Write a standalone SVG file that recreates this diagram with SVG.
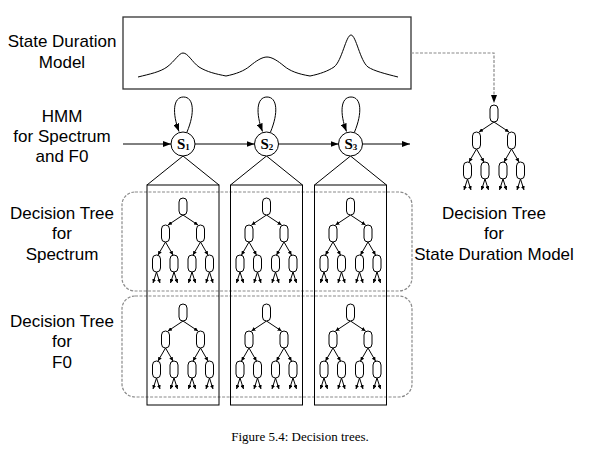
<svg xmlns="http://www.w3.org/2000/svg" xmlns:xlink="http://www.w3.org/1999/xlink" width="600" height="460" viewBox="0 0 600 460">
<style>
.lbl{font-family:"Liberation Sans",Arial,sans-serif;font-size:17px;fill:#000;text-anchor:middle}
.cap{font-family:"Liberation Serif","Times New Roman",serif;font-size:13px;fill:#000;text-anchor:middle}
.st{font-family:"Liberation Serif","Times New Roman",serif;font-weight:bold;fill:#000}
.ln{fill:none;stroke:#000;stroke-width:1}
.box{fill:none;stroke:#333;stroke-width:1.3}
.dash{fill:none;stroke:#8a8a8a;stroke-width:1.2;stroke-dasharray:3,1.5}
.nd{fill:#fff;stroke:#000;stroke-width:1}
.te{fill:none;stroke:#000;stroke-width:1;marker-end:url(#a)}
.he{fill:none;stroke:#000;stroke-width:1;marker-end:url(#A)}
</style>
<defs>
<marker id="a" viewBox="0 0 6 6" refX="6" refY="3" markerWidth="4" markerHeight="4" markerUnits="userSpaceOnUse" orient="auto"><path d="M0,0 L6,3 L0,6 z" fill="#000"/></marker>
<marker id="A" viewBox="0 0 8 6" refX="8" refY="3" markerWidth="8" markerHeight="6" markerUnits="userSpaceOnUse" orient="auto"><path d="M0,0 L8,3 L0,6 z" fill="#000"/></marker>
<marker id="D" viewBox="0 0 6 8" refX="3" refY="8" markerWidth="6" markerHeight="8" markerUnits="userSpaceOnUse" orient="auto-start-reverse"><path d="M0,0 L6,0 L3,8 z" fill="#000"/></marker>
<g id="tree">
<path class="te" d="M0,17 L-15,27"/><path class="te" d="M0,17 L15,27"/>
<path class="te" d="M-17.5,44 L-25,57"/><path class="te" d="M-17.5,44 L-10,57"/>
<path class="te" d="M17.5,44 L10,57"/><path class="te" d="M17.5,44 L25,57"/>
<path class="te" d="M-26.5,74 L-30,85"/><path class="te" d="M-26.5,74 L-23,85"/>
<path class="te" d="M-9,74 L-12.5,85"/><path class="te" d="M-9,74 L-5.5,85"/>
<path class="te" d="M9,74 L5.5,85"/><path class="te" d="M9,74 L12.5,85"/>
<path class="te" d="M26.5,74 L23,85"/><path class="te" d="M26.5,74 L30,85"/>
<rect class="nd" x="-4" y="0" width="8" height="17" rx="4"/>
<rect class="nd" x="-21.5" y="27" width="8" height="17" rx="4"/>
<rect class="nd" x="13.5" y="27" width="8" height="17" rx="4"/>
<rect class="nd" x="-30.5" y="57" width="8" height="17" rx="4"/>
<rect class="nd" x="-13" y="57" width="8" height="17" rx="4"/>
<rect class="nd" x="5" y="57" width="8" height="17" rx="4"/>
<rect class="nd" x="22.5" y="57" width="8" height="17" rx="4"/>
</g>
</defs>

<g id="labels">
<text class="lbl" x="62" y="47">State Duration</text>
<text class="lbl" x="62" y="68">Model</text>
<text class="lbl" x="62" y="122">HMM</text>
<text class="lbl" x="62" y="142">for Spectrum</text>
<text class="lbl" x="62" y="162">and F0</text>
<text class="lbl" x="62" y="219">Decision Tree</text>
<text class="lbl" x="62" y="239">for</text>
<text class="lbl" x="62" y="260">Spectrum</text>
<text class="lbl" x="62" y="327">Decision Tree</text>
<text class="lbl" x="62" y="347">for</text>
<text class="lbl" x="62" y="368">F0</text>
<text class="lbl" x="494" y="219">Decision Tree</text>
<text class="lbl" x="494" y="239">for</text>
<text class="lbl" x="494" y="260">State Duration Model</text>
<text class="cap" x="300" y="441">Figure 5.4: Decision trees.</text>
</g>

<g id="spectrum-group"><rect class="dash" x="122" y="192" width="290" height="99" rx="13"/></g>
<g id="f0-group"><rect class="dash" x="122" y="296" width="290" height="101" rx="13"/></g>

<g id="duration-model">
<rect class="box" x="123" y="17" width="288" height="72"/>
<path class="ln" d="M138,77 C150,74 160,72 167,67 C175,61 179,53 183,53 C188,53 192,62 199,67 C207,72 216,74 226,76 C236,74 244,71 250,66 C256,61 262,57 267,57 C272,57 278,61 284,66 C290,71 298,74 310,76 C320,74 328,71 334,67 C342,61 346,35 351,35 C356,35 360,61 368,67 C374,71 386,74 398,77"/>
</g>

<g id="col1"><rect class="ln" x="147" y="185" width="72" height="220"/></g>
<g id="col2"><rect class="ln" x="230.5" y="185" width="72" height="220"/></g>
<g id="col3"><rect class="ln" x="314.5" y="185" width="72" height="220"/></g>

<g id="trees">
<use xlink:href="#tree" x="183" y="198"/>
<use xlink:href="#tree" x="266.5" y="198"/>
<use xlink:href="#tree" x="350.5" y="198"/>
<use xlink:href="#tree" x="183" y="304"/>
<use xlink:href="#tree" x="266.5" y="304"/>
<use xlink:href="#tree" x="350.5" y="304"/>
<use xlink:href="#tree" x="494" y="105"/>
</g>

<g id="connectors">
<path class="he" d="M123,144 L171,144"/>
<path class="he" d="M195,144 L254.5,144"/>
<path class="he" d="M278.5,144 L338.5,144"/>
<path class="he" d="M362.5,144 L410,144"/>
<path class="he" d="M187,132 C195,113 194,97 183.5,97 C173,97 172,113 179,131.5"/>
<path class="he" d="M270.5,132 C278.5,113 277.5,97 267,97 C256.5,97 255.5,113 262.5,131.5"/>
<path class="he" d="M354.5,132 C362.5,113 361.5,97 351,97 C340.5,97 339.5,113 346.5,131.5"/>
<path class="ln" d="M147,185 L183,156 L219,185"/>
<path class="ln" d="M230.5,185 L266.5,156 L302.5,185"/>
<path class="ln" d="M314.5,185 L350.5,156 L386.5,185"/>
<path class="dash" d="M411,53 L494,53 L494,96"/>
<path d="M491,95 L497,95 L494,103 z" fill="#000"/>
</g>

<g id="s1"><circle cx="183" cy="144" r="12" fill="#fff" stroke="#000" stroke-width="1"/><text class="st" x="177" y="149" font-size="15">S<tspan font-size="9" dy="1">1</tspan></text></g>
<g id="s2"><circle cx="266.5" cy="144" r="12" fill="#fff" stroke="#000" stroke-width="1"/><text class="st" x="260.5" y="149" font-size="15">S<tspan font-size="9" dy="1">2</tspan></text></g>
<g id="s3"><circle cx="350.5" cy="144" r="12" fill="#fff" stroke="#000" stroke-width="1"/><text class="st" x="344.5" y="149" font-size="15">S<tspan font-size="9" dy="1">3</tspan></text></g>
</svg>
